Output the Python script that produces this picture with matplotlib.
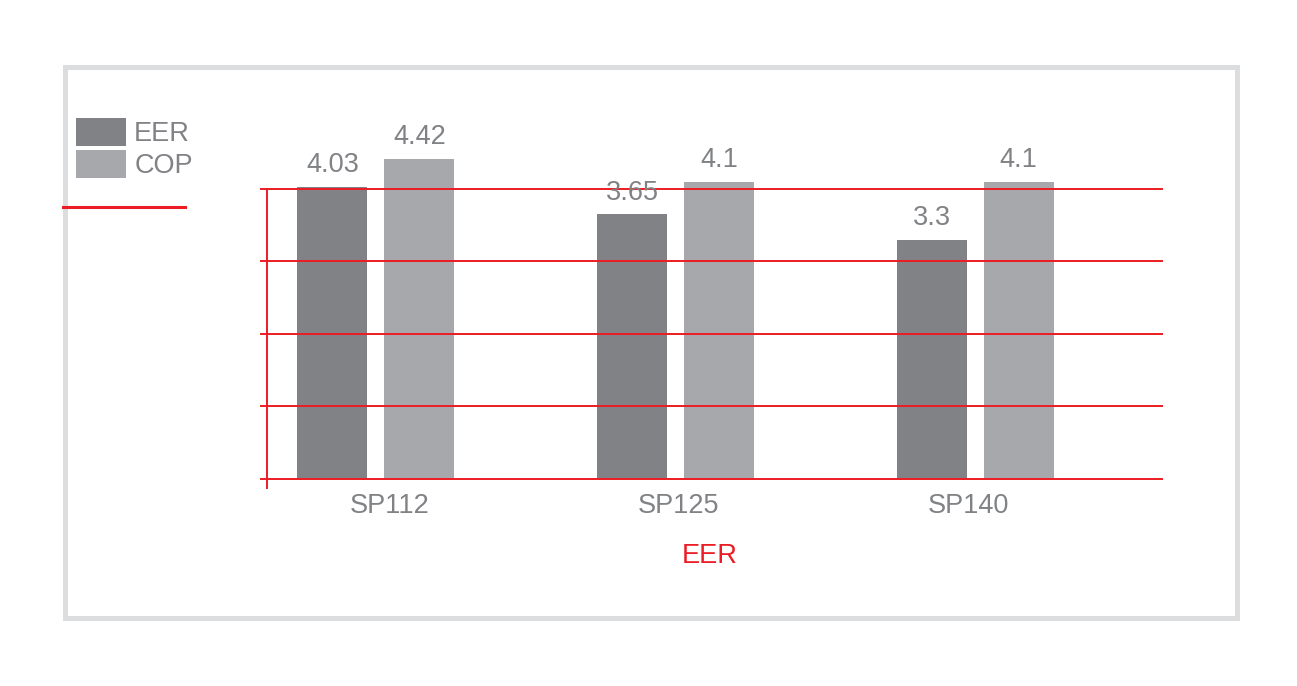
import numpy as np
import matplotlib
matplotlib.use('Agg')
import matplotlib.pyplot as plt
from matplotlib.patches import Rectangle
from matplotlib.lines import Line2D

# data
models = ['SP112', 'SP125', 'SP140']
eer = [4.03, 3.65, 3.3]
cop = [4.42, 4.1, 4.1]
series_names = ['EER', 'COP']
grid_levels = [0, 1, 2, 3, 4]

plt.rcParams['font.family'] = ['Liberation Sans', 'DejaVu Sans']

W, H = 1297, 686
RED = '#ec1c24'
TXT = '#808285'
DARK = '#818286'
LIGHT = '#a7a8ab'
FS = 19.5

fig = plt.figure(figsize=(W / 100, H / 100), dpi=100)
fig.patch.set_facecolor('white')

# axes placed in pixels: spine at x=267, right end 1163, bottom (value -0.125) at y=488
ymin, ymax = -0.125, 4.6
ppu = (479 - 189) / 4.0
top_px = 479 - ymax * ppu
ax = fig.add_axes([267 / W, (H - 488) / H, (1163 - 267) / W, (488 - top_px) / H])

x = np.arange(len(models))
bw = 70 / 300
off = 43.5 / 300
b1 = ax.bar(x - off, eer, bw, color=DARK, label=series_names[0], zorder=1)
b2 = ax.bar(x + off, cop, bw, color=LIGHT, label=series_names[1], zorder=1)

for bars, vals in [(b1, eer), (b2, cop)]:
    for r, v in zip(bars, vals):
        ax.annotate('{:g}'.format(v), (r.get_x() + r.get_width() / 2, v),
                    xytext=(0, 10.5), textcoords='offset points',
                    ha='center', va='baseline', color=TXT, fontsize=FS)

ax.set_xlim(-109 / 300, 2 + 188 / 300)
ax.set_ylim(ymin, ymax)
ax.set_yticks(grid_levels)
ax.set_yticklabels([])
# category labels sit a little off the group centres in the original
ax.set_xticks(x + np.array([0.047, 0.01, -0.023]))
ax.set_xticklabels(models, color=TXT, fontsize=FS)
ax.tick_params(axis='x', length=0, pad=3.5)
ax.tick_params(axis='y', direction='out', length=5, width=1.4, color=RED)
ax.grid(axis='y', color=RED, lw=1.4)
ax.set_axisbelow(False)
for s in ['top', 'right', 'bottom']:
    ax.spines[s].set_visible(False)
ax.spines['left'].set_color(RED)
ax.spines['left'].set_linewidth(1.4)
ax.spines['left'].set_bounds(ymin, 4)
ax.patch.set_visible(False)

fig.text(710 / W, 1 - 556 / H, 'EER', ha='center', va='center', color=RED, fontsize=FS)

fig.legend(handles=[b1, b2], loc='upper left', bbox_to_anchor=(76 / W, 1 - 118 / H),
           bbox_transform=fig.transFigure, frameon=False, fontsize=FS,
           labelcolor=TXT, handlelength=1.85, handleheight=1.22,
           handletextpad=0.3, labelspacing=0.1, borderpad=0, borderaxespad=0)

# red line under legend and grey frame
fig.add_artist(Line2D([63 / W, 185 / W], [1 - 207 / H, 1 - 207 / H], color=RED, lw=2.2))
fig.add_artist(Rectangle((65 / W, 1 - 618 / H), (1236.5 - 65) / W, (618 - 66.5) / H,
                         fill=False, edgecolor='#dcddde', lw=3.6))

fig.savefig('out.png', dpi=100, facecolor='white')
